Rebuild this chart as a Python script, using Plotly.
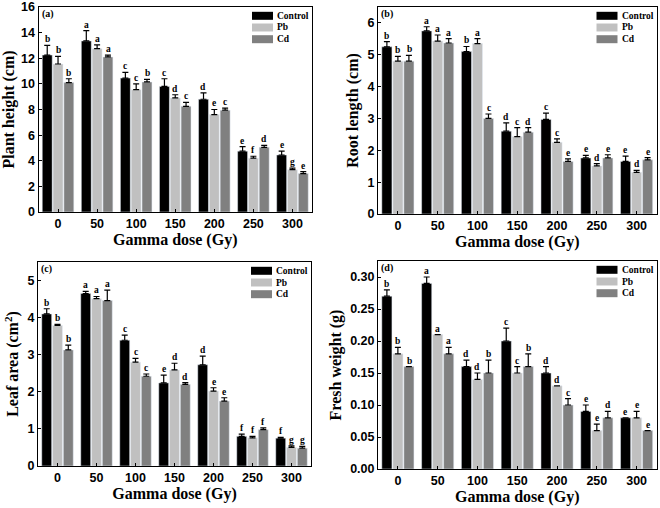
import plotly.graph_objects as go
from plotly.subplots import make_subplots

# Data
doses = ["0", "50", "100", "150", "200", "250", "300"]
groups = ["Control", "Pb", "Cd"]
colors = ["#000000", "#c0c0c0", "#808080"]

# (a) plant height (cm)
height_control = [12.25, 13.35, 10.45, 9.8, 8.8, 4.75, 4.45]
height_pb = [11.55, 12.75, 9.55, 8.9, 7.6, 4.2, 3.3]
height_cd = [10.1, 12.1, 10.15, 8.25, 7.95, 5.05, 3.0]
height_control_err = [0.75, 0.8, 0.45, 0.6, 0.5, 0.35, 0.3]
height_pb_err = [0.6, 0.3, 0.45, 0.25, 0.4, 0.15, 0.12]
height_cd_err = [0.3, 0.15, 0.2, 0.3, 0.15, 0.15, 0.15]
height_letters = [["b", "a", "c", "c", "d", "e", "e"],
                  ["b", "a", "c", "d", "e", "f", "g"],
                  ["b", "a", "b", "c", "c", "d", "e"]]

# (b) root length (cm)
root_control = [5.25, 5.75, 5.1, 2.6, 2.97, 1.76, 1.65]
root_pb = [4.8, 5.43, 5.35, 2.43, 2.25, 1.51, 1.31]
root_cd = [4.8, 5.37, 3.0, 2.57, 1.65, 1.76, 1.7]
root_control_err = [0.16, 0.13, 0.16, 0.26, 0.2, 0.08, 0.17]
root_pb_err = [0.15, 0.19, 0.16, 0.28, 0.11, 0.07, 0.06]
root_cd_err = [0.18, 0.14, 0.14, 0.14, 0.08, 0.1, 0.07]
root_letters = [["b", "a", "b", "d", "c", "e", "e"],
                ["b", "a", "a", "c", "c", "d", "d"],
                ["b", "a", "c", "d", "e", "e", "e"]]

# (c) leaf area (cm2)
leaf_control = [4.1, 4.65, 3.39, 2.24, 2.73, 0.8, 0.75]
leaf_pb = [3.79, 4.51, 2.8, 2.59, 2.02, 0.76, 0.5]
leaf_cd = [3.13, 4.46, 2.42, 2.2, 1.75, 0.98, 0.48]
leaf_control_err = [0.14, 0.06, 0.14, 0.21, 0.23, 0.06, 0.02]
leaf_pb_err = [0.03, 0.06, 0.1, 0.18, 0.09, 0.04, 0.04]
leaf_cd_err = [0.13, 0.28, 0.06, 0.05, 0.09, 0.05, 0.05]
leaf_letters = [["b", "a", "c", "e", "d", "f", "f"],
                ["b", "a", "c", "d", "e", "f", "g"],
                ["b", "a", "c", "d", "e", "f", "g"]]

# (d) fresh weight (g)
fresh_control = [0.27, 0.29, 0.16, 0.20, 0.15, 0.09, 0.08]
fresh_pb = [0.18, 0.21, 0.14, 0.15, 0.13, 0.06, 0.08]
fresh_cd = [0.16, 0.18, 0.15, 0.16, 0.10, 0.08, 0.06]
fresh_control_err = [0.01, 0.01, 0.01, 0.02, 0.01, 0.01, 0.0]
fresh_pb_err = [0.01, 0.0, 0.01, 0.01, 0.0, 0.01, 0.01]
fresh_cd_err = [0.0, 0.01, 0.02, 0.02, 0.01, 0.01, 0.0]
fresh_letters = [["b", "a", "d", "c", "d", "e", "e"],
                 ["b", "a", "d", "c", "d", "e", "e"],
                 ["b", "a", "b", "b", "c", "d", "e"]]

panels = [
    ("(a)", "Plant height (cm)", [height_control, height_pb, height_cd],
     [height_control_err, height_pb_err, height_cd_err], height_letters, [0, 16], 2, None),
    ("(b)", "Root length (cm)", [root_control, root_pb, root_cd],
     [root_control_err, root_pb_err, root_cd_err], root_letters, [0, 6.5], 1, None),
    ("(c)", "Leaf area (cm<sup>2</sup>)", [leaf_control, leaf_pb, leaf_cd],
     [leaf_control_err, leaf_pb_err, leaf_cd_err], leaf_letters, [0, 5.5], 1, None),
    ("(d)", "Fresh weight (g)", [fresh_control, fresh_pb, fresh_cd],
     [fresh_control_err, fresh_pb_err, fresh_cd_err], fresh_letters, [0, 0.325], 0.05, ".2f"),
]

# panel boxes in pixels (left, right, top, bottom) on the 660x508 page
boxes = [(38.5, 312, 7, 212), (378, 656.5, 7, 214), (38, 311, 262, 466), (378, 656.5, 261, 469)]
W, H = 660, 508

serif = "Times New Roman, Liberation Serif, serif"
sans = "Arial, Liberation Sans, sans-serif"

fig = make_subplots(rows=2, cols=2)

for i, (tag, ytitle, series, errs, letters, yrange, dtick, fmt) in enumerate(panels):
    row, col = i // 2 + 1, i % 2 + 1
    for g in range(3):
        fig.add_trace(go.Bar(
            x=doses, y=series[g], name=groups[g], marker_color=colors[g],
            showlegend=False,
            error_y=dict(type="data", symmetric=False, array=errs[g],
                         arrayminus=[0] * len(doses), color="black",
                         thickness=1.2, width=3),
        ), row=row, col=col)

    xa = "x" if i == 0 else "x%d" % (i + 1)
    ya = "y" if i == 0 else "y%d" % (i + 1)
    l, r, t, b = boxes[i]
    fig.update_xaxes(domain=[l / W, r / W], range=[-0.5, 6.5],
                     title=dict(text="Gamma dose (Gy)", standoff=2,
                                font=dict(family=serif, size=16, weight="bold")),
                     row=row, col=col)
    fig.update_yaxes(domain=[1 - b / H, 1 - t / H], range=yrange, dtick=dtick,
                     tickformat=fmt,
                     title=dict(text=ytitle, standoff=4,
                                font=dict(family=serif, size=16, weight="bold")),
                     row=row, col=col)

    # significance letters above the bars
    offsets = [-1, 0, 1]
    for g in range(3):
        for k, d in enumerate(doses):
            fig.add_annotation(
                x=k + offsets[g] * 0.28, y=series[g][k] + errs[g][k],
                xref=xa, yref=ya, text=letters[g][k], showarrow=False,
                yanchor="bottom", yshift=-1,
                font=dict(family=serif, size=9.5, weight="bold", color="black"))

    # panel tag
    pw, ph = r - l, b - t
    fig.add_annotation(x=0, y=1, xref=xa + " domain", yref=ya + " domain",
                       text=tag, showarrow=False, xanchor="left", yanchor="top",
                       xshift=1, yshift=1,
                       font=dict(family=serif, size=10, weight="bold", color="black"))

    # legend: wide swatches + labels
    for g in range(3):
        yc = 1 - (8.8 + g * 11.7) / ph
        fig.add_shape(type="rect", xref=xa + " domain", yref=ya + " domain",
                      x0=1 - 60 / pw, x1=1 - 39 / pw, y0=yc - 4 / ph, y1=yc + 4 / ph,
                      fillcolor=colors[g], line_width=0)
        fig.add_annotation(x=1 - 37 / pw, y=yc, xref=xa + " domain", yref=ya + " domain",
                           text=groups[g], showarrow=False, xanchor="left", yanchor="middle",
                           font=dict(family=serif, size=9.5, weight="bold", color="black"))

fig.update_xaxes(showline=True, linecolor="black", linewidth=1, mirror=True,
                 ticks="inside", ticklen=3, tickcolor="black", showgrid=False,
                 zeroline=False, automargin=False,
                 tickfont=dict(family=sans, size=12.5, weight="bold", color="black"))
fig.update_yaxes(showline=True, linecolor="black", linewidth=1, mirror=True,
                 ticks="inside", ticklen=3, tickcolor="black", showgrid=False,
                 zeroline=False, automargin=False,
                 tickfont=dict(family=sans, size=12.5, weight="bold", color="black"))

fig.update_layout(
    width=660, height=508,
    margin=dict(l=0, r=0, t=0, b=0, autoexpand=False),
    paper_bgcolor="white", plot_bgcolor="white",
    barmode="group", bargap=0.17, bargroupgap=0.08,
    showlegend=False,
    font=dict(color="black"),
)

# drop the browser's default page margin so the figure sits at (0, 0)
fig.write_html("out.html", config={"displayModeBar": False},
               post_script="document.body.style.margin='0';")
